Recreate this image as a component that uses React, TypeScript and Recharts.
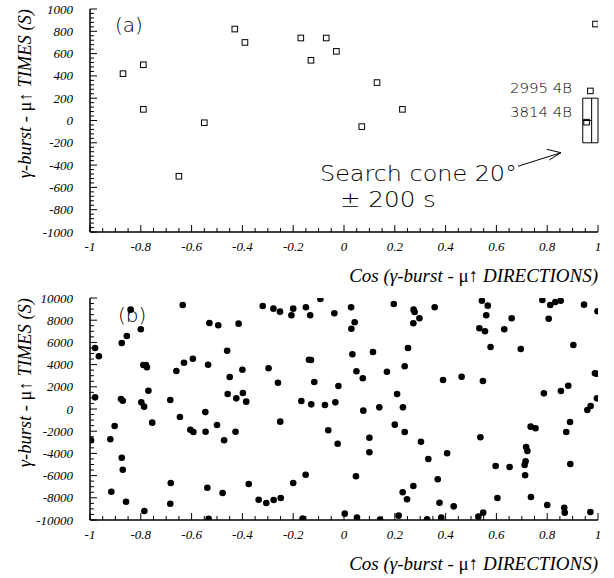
import React from "react";
import {
  ScatterChart,
  Scatter,
  XAxis,
  YAxis,
  ReferenceArea,
  ReferenceLine,
  ReferenceDot,
} from "recharts";

// axis ticks
const xMajor = [-1, -0.8, -0.6, -0.4, -0.2, 0, 0.2, 0.4, 0.6, 0.8, 1];
const yMajorA = [-1000, -800, -600, -400, -200, 0, 200, 400, 600, 800, 1000];
const yMajorB = [-10000, -8000, -6000, -4000, -2000, 0, 2000, 4000, 6000, 8000, 10000];

// panel (a): events inside +-1000 s
const cosA = [-0.87, -0.79, -0.79, -0.65, -0.55, -0.43, -0.39, -0.17, -0.13, -0.07, -0.03, 0.13, 0.23, 0.07, 0.99, 0.97, 0.955];
const dtA = [420, 500, 100, -500, -20, 820, 700, 740, 540, 740, 620, 340, 100, -55, 865, 265, -15];

// panel (b): events inside +-10000 s
const cosB = [
  -0.98, -0.965, -0.98, -0.84, -0.855, -0.875, -0.8, -0.79, -0.78, -0.776, -0.77, -0.878, -0.871, -0.798, -0.787,
  -0.684, -0.635, -0.66, -0.63, -0.595, -0.546, -0.535, -0.53, -0.495, -0.46, -0.45, -0.415, -0.4, -0.458, -0.424,
  -0.398, -0.385, -0.32, -0.278, -0.252, -0.297, -0.26, -0.207, -0.2, -0.15, -0.133, -0.093, -0.038, -0.138, -0.13,
  -0.117, -0.022, -0.168, -0.129, -0.075, -0.034,
  0.028, 0.042, 0.029, 0.196, 0.274, 0.278, 0.297, 0.273, 0.357, 0.543, 0.566, 0.56, 0.533, 0.555, 0.631, 0.66,
  0.781, 0.812, 0.832, 0.853, 0.806, 0.945, 0.998, 0.577, 0.696, 0.903, 0.033, 0.114, 0.252, 0.239, 0.049, 0.074,
  0.169, 0.39, 0.463, 0.547, 0.209, 0.787, 0.854, 0.883, 0.988, 0.995, 0.996, 0.971, 0.958, 0.076, 0.139, 0.232,
  -0.996, -0.92, -0.903, -0.875, -0.871, -0.916, -0.858, -0.755, -0.786, -0.682, -0.684, -0.646, -0.605, -0.593,
  -0.545, -0.5, -0.472, -0.427, -0.538, -0.533, -0.478, -0.375, -0.336, -0.306, -0.277, -0.249, -0.251, -0.2,
  -0.151, -0.163, -0.062, -0.025, 0.003,
  0.1, 0.1, 0.047, 0.2, 0.239, 0.303, 0.332, 0.406, 0.369, 0.273, 0.231, 0.248, 0.376, 0.432, 0.051, 0.142, 0.215,
  0.327, 0.383, 0.537, 0.597, 0.652, 0.604, 0.529, 0.548, 0.717, 0.722, 0.715, 0.711, 0.713, 0.735, 0.754, 0.736,
  0.8, 0.875, 0.89, 0.891, 0.867, 0.869, 0.97,
];
const dtB = [
  5500, 4750, 1050, 8950, 6580, 5950, 7180, 3960, 3960, 3760, 1650, 900, 750, 600, 210,
  810, 9370, 3420, 4170, 4530, -280, 3990, 7750, 7540, 5250, 2880, 7690, 3540, 1350, 960,
  1440, 660, 9280, 9040, 8770, 3670, 2370, 8440, 9040, 9160, 8440, 9910, 8620, 4440, 4420,
  2430, 2070, 720, 420, 360, 600,
  9160, 7810, 7230, 9460, 8950, 8740, 8170, 7720, 9160, 9760, 9310, 8440, 7270, 7000, 7180, 8170,
  9820, 9370, 9640, 9760, 8135, 9400, 8800, 5590, 5400, 5770, 4930, 5135, 5500, 3850, 3400, 2770,
  3360, 2610, 2910, 2520, 1350, 1410, 1620, 2100, 3220, 3180, 960, 270, -90, -150, 150, 150,
  -2820, -2730, -1530, -4390, -5470, -7450, -8350, -1230, -9190, -6670, -8530, -720, -1865, -2070,
  -2045, -1440, -2820, -2045, -7090, -9900, -7570, -6760, -8170, -8470, -8200, -8020, -1140, -6670,
  -5920, -9880, -1920, -3130, -9430,
  -2590, -3900, -6060, -1410, -2070, -2950, -4500, -3990, -6330, -6940, -7500, -8135, -8440, -8770, -9790, -9950, -9610,
  -9930, -9790, -2550, -5135, -5225, -8020, -9700, -9340, -3420, -3780, -4710, -5045, -5970, -1590, -1740, -7930,
  -8650, -2070, -1170, -4955, -8890, -9340, -9280,
];

const dataA = cosA.map((c, i) => ({ cos: c, dt: dtA[i] }));
const dataB = cosB.map((c, i) => ({ cos: c, dt: dtB[i] }));

const subdivide = (major: number[], n: number) => {
  const out: number[] = [];
  for (let i = 0; i < major.length - 1; i++) {
    for (let k = 0; k < n; k++) {
      out.push(+(major[i] + ((major[i + 1] - major[i]) * k) / n).toFixed(4));
    }
  }
  out.push(major[major.length - 1]);
  return out;
};

const isMajor = (list: number[], v: number) => list.some((m) => Math.abs(m - v) < 1e-6);

const serif = "'Liberation Serif', 'Times New Roman', serif";
const sans = "'DejaVu Sans', 'Liberation Sans', sans-serif";
const tickFont = { fontFamily: serif, fontStyle: "italic" as const, fontSize: 13, fill: "#000" };

const xTick = (side: "bottom" | "top") => (p: any) => {
  const v = Number(p.payload.value);
  const major = isMajor(xMajor, v);
  const len = major ? 7 : 4;
  const d = side === "bottom" ? -1 : 1;
  return (
    <g>
      <line x1={p.x} x2={p.x} y1={p.y} y2={p.y + d * len} stroke="#000" strokeWidth={1} />
      {major && side === "bottom" ? (
        <text x={p.x} y={p.y + 19} textAnchor="middle" style={tickFont}>
          {String(v)}
        </text>
      ) : null}
    </g>
  );
};

const yTick = (side: "left" | "right", majors: number[]) => (p: any) => {
  const v = Number(p.payload.value);
  const major = isMajor(majors, v);
  const len = major ? 7 : 4;
  const d = side === "left" ? 1 : -1;
  return (
    <g>
      <line x1={p.x} x2={p.x + d * len} y1={p.y} y2={p.y} stroke="#000" strokeWidth={1} />
      {major && side === "left" ? (
        <text x={p.x - 17} y={p.y + 4.5} textAnchor="end" style={tickFont}>
          {String(v)}
        </text>
      ) : null}
    </g>
  );
};

const XTitle = (p: any) => {
  const vb = p.viewBox ?? { x: 90, y: 232, width: 508, height: 57 };
  return (
    <text x={vb.x + vb.width} y={vb.y + 50} textAnchor="end" fontFamily={serif} fontSize={19} fontStyle="italic" fill="#000">
      {"Cos (γ-burst - "}
      <tspan fontStyle="normal">μ↑</tspan>
      {" DIRECTIONS)"}
    </text>
  );
};

const YTitle = (p: any) => {
  const vb = p.viewBox ?? { x: 0, y: 9, width: 90, height: 223 };
  const x = vb.x + 31;
  const y = vb.y;
  return (
    <text x={x} y={y} transform={`rotate(-90 ${x} ${y})`} textAnchor="end" fontFamily={serif} fontSize={18.5} fontStyle="italic" fill="#000">
      {"γ-burst - "}
      <tspan fontStyle="normal">μ↑</tspan>
      {" TIMES (S)"}
    </text>
  );
};

const OpenSquare = (p: any) => (
  <rect x={p.cx - 2.8} y={p.cy - 2.8} width={5.6} height={5.6} fill="none" stroke="#000" strokeWidth={1} />
);
const FilledDot = (p: any) => <circle cx={p.cx} cy={p.cy} r={3.3} fill="#000" />;

const note = (txt: string, size: number, width?: number) => (p: any) => (
  <text
    x={p.cx}
    y={p.cy}
    fontFamily={sans}
    fontWeight={200}
    fontSize={size}
    fill="#000"
    textLength={width}
    lengthAdjust={width ? "spacingAndGlyphs" : undefined}
  >
    {txt}
  </text>
);

interface PanelProps {
  data: { cos: number; dt: number }[];
  yMajor: number[];
  ySub: number;
  axisH: number;
  shape: any;
  children?: React.ReactNode;
}

function Panel({ data, yMajor, ySub, axisH, shape, children }: PanelProps) {
  const xTicks = subdivide(xMajor, 4);
  const yTicks = subdivide(yMajor, ySub);
  const yDomain = [yMajor[0], yMajor[yMajor.length - 1]];
  return (
    <ScatterChart width={614} height={289} margin={{ top: 9, right: 16, bottom: 0, left: 0 }}>
      <XAxis
        xAxisId="x"
        dataKey="cos"
        type="number"
        domain={[-1, 1]}
        allowDataOverflow
        ticks={xTicks}
        interval={0}
        height={axisH}
        tickSize={0}
        tickMargin={0}
        tickLine={false}
        axisLine={{ stroke: "#000", strokeWidth: 1.5 }}
        tick={xTick("bottom")}
        label={<XTitle />}
      />
      <XAxis
        xAxisId="top"
        orientation="top"
        type="number"
        domain={[-1, 1]}
        allowDataOverflow
        ticks={xTicks}
        interval={0}
        height={0}
        tickSize={0}
        tickMargin={0}
        tickLine={false}
        axisLine={{ stroke: "#000", strokeWidth: 1.5 }}
        tick={xTick("top")}
      />
      <YAxis
        yAxisId="y"
        dataKey="dt"
        type="number"
        domain={yDomain}
        allowDataOverflow
        ticks={yTicks}
        interval={0}
        width={90}
        tickSize={0}
        tickMargin={0}
        tickLine={false}
        axisLine={{ stroke: "#000", strokeWidth: 1.5 }}
        tick={yTick("left", yMajor)}
        label={<YTitle />}
      />
      <YAxis
        yAxisId="right"
        orientation="right"
        type="number"
        domain={yDomain}
        allowDataOverflow
        ticks={yTicks}
        interval={0}
        width={0}
        tickSize={0}
        tickMargin={0}
        tickLine={false}
        axisLine={{ stroke: "#000", strokeWidth: 1.5 }}
        tick={yTick("right", yMajor)}
      />
      {children}
      <Scatter xAxisId="x" yAxisId="y" data={data} shape={shape} isAnimationActive={false} />
    </ScatterChart>
  );
}

const ids = { xAxisId: "x", yAxisId: "y" };

export default function App() {
  return (
    <div style={{ position: "absolute", left: 0, top: 0, width: 614, height: 578, background: "#fff" }}>
      <Panel data={dataA} yMajor={yMajorA} ySub={5} axisH={57} shape={OpenSquare}>
        <ReferenceArea {...ids} x1={0.94} x2={1} y1={-200} y2={200} fill="none" stroke="#000" strokeWidth={1} strokeOpacity={1} fillOpacity={0} />
        <ReferenceLine {...ids} segment={[{ x: 0.94, y: 0 }, { x: 0.975, y: 0 }]} stroke="#000" strokeWidth={1} />
        <ReferenceLine {...ids} segment={[{ x: 0.975, y: -200 }, { x: 0.975, y: 200 }]} stroke="#000" strokeWidth={1} />
        <ReferenceLine {...ids} segment={[{ x: 0.685, y: -410 }, { x: 0.854, y: -289 }]} stroke="#000" strokeWidth={1} />
        <ReferenceLine {...ids} segment={[{ x: 0.798, y: -258 }, { x: 0.854, y: -289 }]} stroke="#000" strokeWidth={1} />
        <ReferenceLine {...ids} segment={[{ x: 0.808, y: -354 }, { x: 0.854, y: -289 }]} stroke="#000" strokeWidth={1} />
        <ReferenceDot {...ids} x={-0.902} y={794} r={0} shape={note("(a)", 20)} />
        <ReferenceDot {...ids} x={0.6535} y={244} r={0} shape={note("2995 4B", 14, 62)} />
        <ReferenceDot {...ids} x={0.6535} y={29} r={0} shape={note("3814 4B", 14, 62)} />
        <ReferenceDot {...ids} x={-0.0945} y={-543} r={0} shape={note("Search cone 20°", 21, 197)} />
        <ReferenceDot {...ids} x={-0.016} y={-776} r={0} shape={note("± 200 s", 21, 96)} />
      </Panel>
      <div style={{ position: "absolute", left: 0, top: 289 }}>
        <Panel data={dataB} yMajor={yMajorB} ySub={4} axisH={58} shape={FilledDot}>
          <ReferenceDot {...ids} x={-0.89} y={7838} r={0} shape={note("(b)", 20)} />
        </Panel>
      </div>
    </div>
  );
}
